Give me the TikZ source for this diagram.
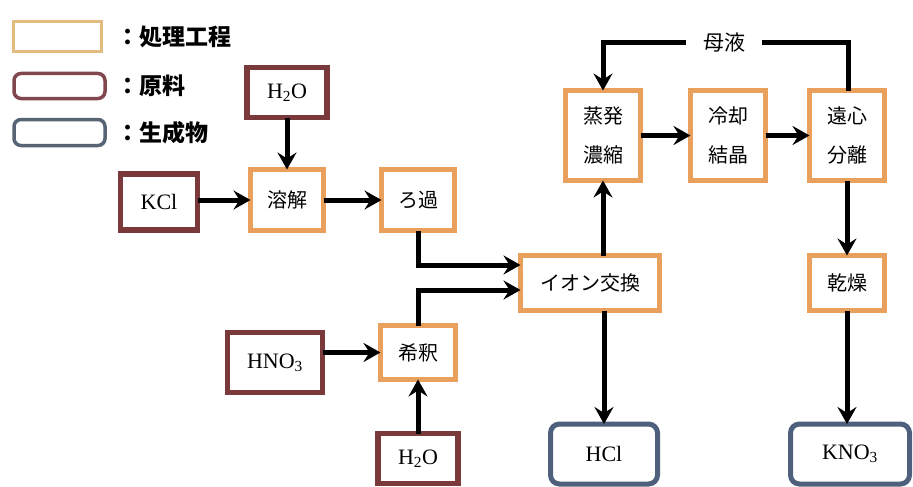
\documentclass[tikz,border=0pt]{standalone}
\usepackage{fontspec}
\setmainfont{Liberation Serif}
\newfontfamily\jp{Noto Sans CJK JP}
\usetikzlibrary{arrows.meta}
\definecolor{procC}{RGB}{232,160,92}
\definecolor{rawC}{RGB}{122,58,60}
\definecolor{prodC}{RGB}{78,96,124}
\definecolor{procL}{RGB}{226,188,128}
\definecolor{rawL}{RGB}{128,72,78}
\definecolor{prodL}{RGB}{86,100,116}
\begin{document}
\begin{tikzpicture}[x=1pt,y=-1pt,
  base/.style={outer sep=0pt, inner sep=0pt, fill=white},
  procbox/.style={base, draw=procC, line width=5.5pt, font=\jp\fontsize{20}{39}\selectfont, align=center},
  rawbox/.style={base, draw=rawC, line width=5.5pt, font=\fontsize{22}{26}\selectfont},
  prodbox/.style={base, draw=prodC, line width=5pt, rounded corners=9pt, font=\fontsize{22}{26}\selectfont},
  legtext/.style={anchor=west, inner sep=0pt, font=\jp\bfseries\fontsize{23}{27}\selectfont},
  conn/.style={line width=5pt},
  arr/.style={conn, -{Stealth[length=17pt,width=19pt,inset=6pt]}},
  sz/.style 2 args={minimum width=#1, minimum height=#2}
]
\useasboundingbox (0,0) rectangle (913,487);

% legend
\node[base, draw=procL, line width=3pt, sz={88pt}{30pt}] (lp) at (57.5,36.5) {};
\node[base, draw=rawL, line width=3.5pt, rounded corners=7pt, sz={91pt}{25pt}] (lr) at (59.5,86) {};
\node[base, draw=prodL, line width=3.5pt, rounded corners=7pt, sz={91pt}{26pt}] (lg) at (59.5,132.5) {};
\node[legtext] (lpt) at (116,36.5) {：処理工程};
\node[legtext] (lrt) at (116,86) {：原料};
\node[legtext] (lgt) at (116,132.5) {：生成物};

% raw materials
\node[rawbox, sz={80pt}{50pt}] (h2oA) at (287,92.5) {H\textsubscript{2}O};
\node[rawbox, sz={77pt}{56pt}] (kcl) at (159,202) {KCl};
\node[rawbox, sz={95pt}{60pt}] (hno3) at (275,362.5) {HNO\textsubscript{3}};
\node[rawbox, sz={80pt}{50pt}] (h2oB) at (418,458.5) {H\textsubscript{2}O};

% processes
\node[procbox, sz={73pt}{61pt}] (dissolve) at (287,200) {溶解};
\node[procbox, sz={73pt}{61pt}] (filter) at (418,200) {ろ過};
\node[procbox, sz={75pt}{54pt}] (dilute) at (418,352.5) {希釈};
\node[procbox, sz={139pt}{55pt}] (ion) at (590,283) {イオン交換};
\node[procbox, sz={75pt}{90pt}] (evap) at (603,135.5) {蒸発\\濃縮};
\node[procbox, sz={75pt}{90pt}] (cool) at (728,135.5) {冷却\\結晶};
\node[procbox, sz={75pt}{90pt}] (centri) at (847,135.5) {遠心\\分離};
\node[procbox, sz={75pt}{55pt}] (dry) at (847,283) {乾燥};

% products
\node[prodbox, sz={107pt}{60pt}] (hcl) at (604,454) {HCl};
\node[prodbox, sz={119pt}{60pt}] (kno3) at (850,454) {KNO\textsubscript{3}};

% recycle label
\node[inner sep=0pt, inner xsep=17pt, minimum height=24pt, font=\jp\fontsize{21}{24}\selectfont] (mother) at (724,43) {母液};

% connectors
\draw[arr] (h2oA) -- (dissolve);
\draw[arr] (kcl.east |- dissolve) -- (dissolve.west);
\draw[arr] (dissolve) -- (filter);
\draw[arr] (filter.south) |- ([yshift=18pt]ion.west);
\draw[arr] (dilute.north) |- ([yshift=-7pt]ion.west);
\draw[arr] (hno3.east |- dilute) -- (dilute.west);
\draw[arr] (h2oB) -- (dilute);
\draw[arr] (evap.south |- ion.north) -- (evap.south);
\draw[arr] (hcl.north |- ion.south) -- (hcl.north);
\draw[arr] (evap) -- (cool);
\draw[arr] (cool) -- (centri);
\draw[conn] ([xshift=1pt]centri.north) |- (mother.east);
\draw[arr] (mother.west) -| (evap.north);
\draw[arr] (centri) -- (dry);
\draw[arr] (dry.south) -- (dry.south |- kno3.north);
\end{tikzpicture}
\end{document}
